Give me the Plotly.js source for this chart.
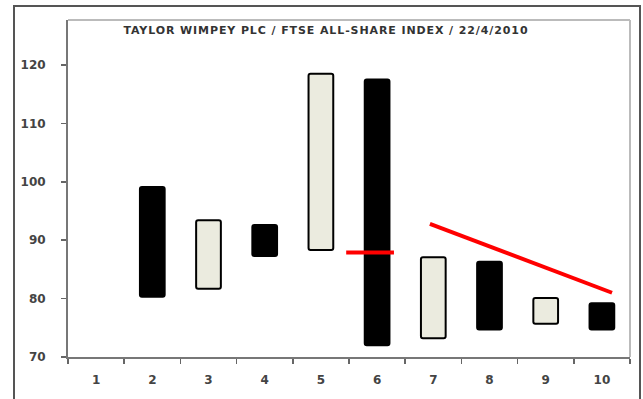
<!DOCTYPE html>
<html>
<head>
<meta charset="utf-8">
<script src="https://cdn.plot.ly/plotly-3.0.1.min.js"></script>
<style>
  html, body { margin: 0; padding: 0; background: #fff; width: 643px; height: 399px; overflow: hidden; }
  #frame { position: absolute; left: 13px; top: 5px; width: 624px; height: 420px; border: 2px solid #555; pointer-events: none; z-index: 5; }
  #chart { position: absolute; left: 0; top: 0; width: 643px; height: 399px; }
  .gtitle { letter-spacing: 0.9px; }
</style>
</head>
<body>
<div id="chart"></div>
<div id="frame"></div>
<script>
// Data
const categories = ['1','2','3','4','5','6','7','8','9','10'];
const lows  = [null, 80.3, 81.7, 87.3, 88.3, 72.0, 73.2, 74.7, 75.7, 74.7];
const highs = [null, 99.1, 93.4, 92.6, 118.5, 117.5, 87.1, 86.3, 80.1, 79.2];
const barKind = ['', 'dark', 'light', 'dark', 'light', 'dark', 'light', 'dark', 'light', 'dark'];
// red annotation lines (x in category units, y in index values)
const markX = [5.45, 6.3];
const markY = [87.9, 87.9];
const trendX = [6.94, 10.18];
const trendY = [92.8, 81.0];
const titleText = 'TAYLOR WIMPEY PLC / FTSE ALL-SHARE INDEX / 22/4/2010';

const spans = highs.map((h, i) => (h == null ? null : h - lows[i]));
const fills = barKind.map(k => (k === 'dark' ? '#000000' : '#ebebdf'));

const traces = [
  {
    type: 'bar',
    x: categories,
    y: spans,
    base: lows,
    width: 0.44,
    marker: { color: fills, line: { color: '#000', width: 2 }, cornerradius: 2 },
    hoverinfo: 'skip'
  },
  {
    type: 'scatter', mode: 'lines', xaxis: 'x2', yaxis: 'y',
    x: markX, y: markY, line: { color: '#ff0000', width: 4 }, hoverinfo: 'skip'
  },
  {
    type: 'scatter', mode: 'lines', xaxis: 'x2', yaxis: 'y',
    x: trendX, y: trendY, line: { color: '#ff0000', width: 4 }, hoverinfo: 'skip'
  }
];

const tickFont = { family: 'DejaVu Sans, sans-serif', size: 12, color: '#444', weight: 'bold' };

const layout = {
  width: 643, height: 399,
  margin: { l: 68, r: 13, t: 20, b: 42 },
  paper_bgcolor: '#ffffff', plot_bgcolor: '#ffffff',
  showlegend: false,
  font: { family: 'DejaVu Sans, sans-serif', size: 11, color: '#333' },
  title: {
    text: titleText,
    font: { family: 'DejaVu Sans, sans-serif', size: 11, color: '#333', weight: 'bold' },
    x: 0.459, xref: 'paper', xanchor: 'center',
    y: 0.925, yref: 'container', yanchor: 'middle'
  },
  xaxis: {
    type: 'category',
    range: [-0.5, 9.5],
    tickson: 'boundaries',
    ticks: 'outside', ticklen: 5, tickwidth: 1.5, tickcolor: '#666',
    showline: true, linecolor: '#777', linewidth: 2,
    showgrid: false, zeroline: false,
    tickfont: tickFont,
    ticklabelstandoff: 11,
    fixedrange: true
  },
  xaxis2: {
    overlaying: 'x', range: [0.5, 10.5], visible: false, fixedrange: true
  },
  yaxis: {
    range: [70, 127.7],
    tickvals: [70, 80, 90, 100, 110, 120],
    ticks: 'outside', ticklen: 5, tickwidth: 1.5, tickcolor: '#666',
    showline: true, linecolor: '#777', linewidth: 2,
    showgrid: false, zeroline: false,
    tickfont: tickFont,
    ticklabelstandoff: 13,
    fixedrange: true
  },
  shapes: [
    { type: 'line', xref: 'paper', yref: 'paper', x0: 0, x1: 1, y0: 1, y1: 1, line: { color: '#bbb', width: 2 } },
    { type: 'line', xref: 'paper', yref: 'paper', x0: 1, x1: 1, y0: 0, y1: 1, line: { color: '#bbb', width: 2 } }
  ]
};

Plotly.newPlot('chart', traces, layout, { displayModeBar: false, staticPlot: true });
</script>
</body>
</html>
